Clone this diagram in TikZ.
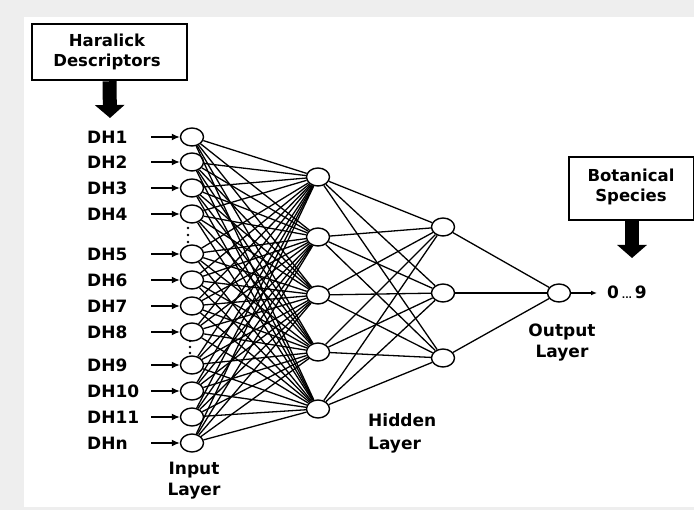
\documentclass[tikz,border=0pt]{standalone}
\usepackage{fontspec}
\setmainfont{DejaVu Sans}
\usetikzlibrary{shapes.geometric,arrows.meta}
\definecolor{bggray}{HTML}{EEEEEE}
\begin{document}
\begin{tikzpicture}[x=1pt,y=-1pt,
  neuron/.style={draw,ellipse,minimum width=23pt,minimum height=18pt,inner sep=0pt,line width=1.4pt,fill=white},
  conn/.style={line width=1.3pt},
  txt/.style={font=\bfseries\fontsize{17}{21}\selectfont,inner sep=0pt,align=center},
  dhlabel/.style={txt,anchor=west},
  inarrow/.style={line width=1.4pt,-{Latex[length=8pt,width=7pt]}},
  outarrow/.style={line width=1.2pt,-{Latex[length=6pt,width=5pt]}},
  titlebox/.style={draw,line width=2.5pt,fill=white,inner sep=0pt},
  boxtext/.style={inner sep=0pt,font=\bfseries\fontsize{16.5}{19.5}\selectfont,align=center},
  bigarrow/.style={line width=14pt,-{Triangle[length=13pt,width=29pt]}},
  dotmark/.style={circle,fill=black,inner sep=0pt,minimum size=2.6pt}]
% background
\fill[bggray] (0,0) rectangle (694,510);
\fill[white] (24,17) rectangle (694,507);
\useasboundingbox (0,0) rectangle (694,510);

% input layer
\foreach \k/\y/\t in {1/137/DH1,2/162/DH2,3/188/DH3,4/214/DH4,5/254/DH5,6/280/DH6,7/306/DH7,8/332/DH8,9/365/DH9,10/391/DH10,11/417/DH11,12/443/DHn}{
  \node[neuron] (i\k) at (192,\y) {};
  \node[dhlabel] (l\k) at (87,\y) {\t};
  \coordinate (a\k) at (151,\y);
}
% hidden layer 1
\foreach \k/\y in {1/177,2/237,3/295,4/352,5/409}{
  \node[neuron] (h\k) at (318,\y) {};
}
% hidden layer 2
\foreach \k/\y in {1/227,2/293,3/358}{
  \node[neuron] (g\k) at (443,\y) {};
}
% output
\node[neuron] (o) at (559,293) {};

% connections
\foreach \a in {1,...,12}{
  \foreach \b in {1,...,5}{
    \draw[conn] (i\a) -- (h\b);
  }
  \draw[inarrow] (a\a) -- (i\a);
}
\foreach \a in {1,...,5}{
  \foreach \b in {1,2,3}{
    \draw[conn] (h\a) -- (g\b);
  }
}
\foreach \b in {1,2,3}{
  \draw[conn] (g\b) -- (o);
}

% dots
\foreach \y [count=\n] in {228,235,242}{
  \node[dotmark] (da\n) at (188,\y) {};
}
\foreach \y [count=\n] in {341,347,353}{
  \node[dotmark] (db\n) at (190,\y) {};
}

% output arrow and text
\coordinate (oend) at (597,293);
\draw[outarrow] (o) -- (oend);
\node[txt,anchor=west] (res) at (607,292) {0\,{\fontsize{9}{9}\selectfont...}\,9};

% boxes
\node[titlebox,minimum width=155pt,minimum height=56pt] (haral) at (109.5,52) {};
\node[boxtext] (haraltxt) at (107,52) {Haralick\\Descriptors};
\coordinate (htip) at (110,118);
\draw[bigarrow] (haral.south) -- (htip);

\node[titlebox,minimum width=125pt,minimum height=63pt] (bot) at (631.5,188.5) {};
\node[boxtext] (bottxt) at (631,187) {Botanical\\Species};
\coordinate (btip) at (632,258);
\draw[bigarrow] (bot.south -| btip) -- (btip);

% layer labels
\node[txt] (inlbl) at (194,481) {Input\\Layer};
\node[txt,align=left,anchor=west] (hidlbl) at (368,433) {Hidden\\[2pt]Layer};
\node[txt] (outlbl) at (562,343) {Output\\Layer};
\end{tikzpicture}
\end{document}
